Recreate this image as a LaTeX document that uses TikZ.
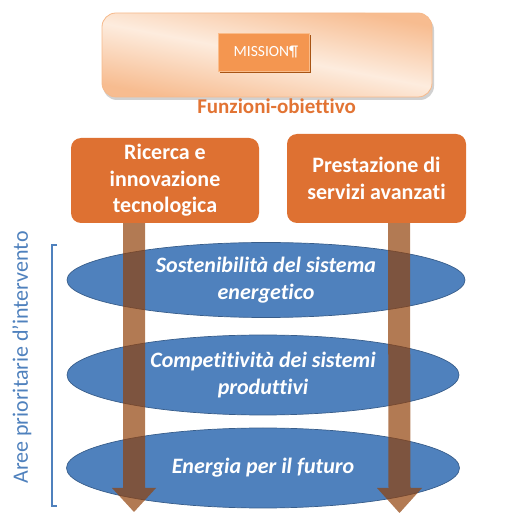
\documentclass[tikz,border=0pt]{standalone}
\usepackage{fontspec}
\setmainfont{Carlito}[Ligatures={NoCommon}]
\usetikzlibrary{shapes.geometric,shadows,calc}
\definecolor{peachD}{RGB}{247,188,144}
\definecolor{peachL}{RGB}{253,236,222}
\definecolor{peachB}{RGB}{246,186,140}
\definecolor{missF}{RGB}{244,150,80}
\definecolor{missB}{RGB}{250,188,138}
\definecolor{missS}{RGB}{168,84,20}
\definecolor{orgF}{RGB}{222,113,50}
\definecolor{orgT}{RGB}{226,116,52}
\definecolor{bluF}{RGB}{79,129,189}
\definecolor{bluB}{RGB}{56,93,138}
\definecolor{arrC}{RGB}{145,65,10}
\tikzset{
  bigbox/.style={rounded corners=14pt, draw=peachB, line width=0.8pt,
    minimum width=330pt, minimum height=84pt, inner sep=0pt},
  missbox/.style={fill=missF, draw=missB, line width=0.8pt, text=white,
    font=\fontsize{15.5}{18}\selectfont, minimum width=91pt, minimum height=38pt, inner sep=0pt,
    drop shadow={fill=missS, opacity=1, shadow xshift=1.5pt, shadow yshift=-2.5pt}},
  funbox/.style={rounded corners=10pt, fill=orgF, text=white, align=center,
    font=\fontsize{22}{26.5}\selectfont\bfseries, inner sep=0pt},
  area/.style={ellipse, fill=bluF, draw=bluB, line width=0.7pt, text=white, align=center,
    font=\fontsize{22}{27}\selectfont\bfseries\itshape, inner sep=0pt},
  bigarrow/.style={fill=arrC, opacity=0.7},
  brace/.style={draw=bluF, line width=2pt}
}
\begin{document}
\begin{tikzpicture}[x=1pt,y=-1pt]
\useasboundingbox (0,0) rectangle (523,513);
% top mission panel: shadow, shading, outline
\fill[black, opacity=0.18, rounded corners=14pt] (103,16) rectangle (434,100);
\begin{scope}
\clip[rounded corners=14pt] (102,13) rectangle (432,97);
\fill[peachD] (102,13) rectangle (432,97);
\begin{scope}[transform canvas={rotate around={-11:(267,55)}}]
\shade[top color=peachD, bottom color=peachD, middle color=peachL] (40,-5) rectangle (494,115);
\end{scope}
\end{scope}
\node[bigbox] (panel) at (267,55) {};
\node[missbox] (mission) at (263.5,52) {\hspace*{5pt}MISSION¶};
\node[text=orgT, font=\fontsize{21}{25}\selectfont\bfseries, anchor=base, inner sep=0pt] (fun) at (276.5,114) {Funzioni-obiettivo};
% ellipses
\node[area, minimum width=398pt, minimum height=75pt] (e1) at (266,280) {Sostenibilità del sistema\\energetico};
\node[area, minimum width=392pt, minimum height=80pt] (e2) at (263,375) {Competitività dei sistemi\\produttivi};
\node[area, minimum width=393pt, minimum height=80pt] (e3) at (263,468) {Energia per il futuro};
% arrows
\coordinate (la) at (134,223);
\coordinate (lt) at (134,512);
\coordinate (ra) at (399,223);
\coordinate (rt) at (399.5,513);
\fill[bigarrow] ([xshift=-11pt]la) -- ([xshift=11pt]la) -- ([xshift=11pt,yshift=24pt]lt) -- ([xshift=22pt,yshift=24pt]lt) -- (lt) -- ([xshift=-22pt,yshift=24pt]lt) -- ([xshift=-11pt,yshift=24pt]lt) -- cycle;
\fill[bigarrow] ([xshift=-11pt]ra) -- ([xshift=11pt]ra) -- ([xshift=11pt,yshift=25pt]rt) -- ([xshift=22.5pt,yshift=25pt]rt) -- (rt) -- ([xshift=-22.5pt,yshift=25pt]rt) -- ([xshift=-11pt,yshift=25pt]rt) -- cycle;
% function boxes
\node[funbox, minimum width=188pt, minimum height=85pt] (ric) at (165,180.5) {Ricerca e\\innovazione\\tecnologica};
\node[funbox, minimum width=179pt, minimum height=89pt] (pre) at (376.5,178.5) {Prestazione di\\servizi avanzati};
% side label and bracket
\node[rotate=90, text=bluF, font=\fontsize{22}{26}\selectfont, inner sep=0pt] (lab) at (22,357.5) {Aree prioritarie d’intervento};
\coordinate (bt) at (57,245);
\coordinate (bb) at (57,506);
\draw[brace] (bt) -- ([xshift=-5pt]bt) -- ([xshift=-5pt]bb) -- (bb);
\end{tikzpicture}
\end{document}
